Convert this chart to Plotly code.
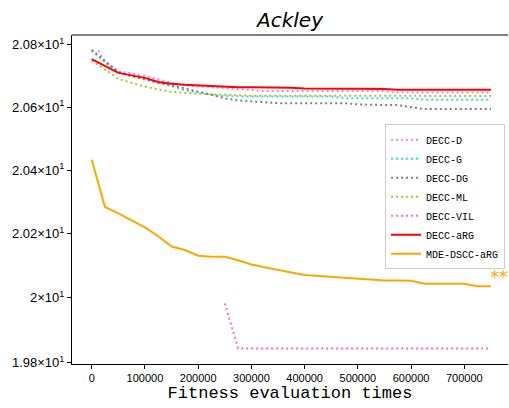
import math
import plotly.graph_objects as go

# ---------------- data ----------------
x_common = [0, 25000, 50000, 75000, 100000, 125000, 150000, 175000, 200000, 225000,
            250000, 275000, 300000, 325000, 350000, 375000, 400000, 425000, 450000, 475000,
            500000, 525000, 550000, 575000, 600000, 625000, 650000, 675000, 700000, 725000,
            750000]

x_decc_d = [12500, 25000, 50000, 75000, 100000, 125000, 150000, 175000, 200000, 225000,
            250000, 275000, 300000, 325000, 350000, 375000, 400000, 425000, 450000, 475000,
            500000, 525000, 550000, 575000, 600000, 625000, 650000, 675000, 700000, 725000,
            750000]
decc_d = [20.782, 20.742, 20.714, 20.709, 20.700, 20.689, 20.678, 20.670, 20.667, 20.664,
          20.660, 20.659, 20.655, 20.652, 20.652, 20.652, 20.652, 20.652, 20.652, 20.652,
          20.652, 20.652, 20.652, 20.647, 20.647, 20.647, 20.647, 20.647, 20.647, 20.647,
          20.647]

decc_g = [20.781, 20.745, 20.714, 20.700, 20.691, 20.680, 20.668, 20.654, 20.646, 20.640,
          20.636, 20.634, 20.634, 20.634, 20.634, 20.634, 20.634, 20.634, 20.634, 20.629,
          20.629, 20.629, 20.629, 20.629, 20.629, 20.624, 20.624, 20.624, 20.624, 20.624,
          20.624]

decc_dg = [20.784, 20.749, 20.713, 20.699, 20.688, 20.678, 20.670, 20.660, 20.651, 20.640,
           20.628, 20.622, 20.619, 20.616, 20.613, 20.613, 20.613, 20.613, 20.613, 20.613,
           20.609, 20.607, 20.607, 20.607, 20.600, 20.594, 20.594, 20.594, 20.594, 20.594,
           20.594]

decc_ml = [20.750, 20.720, 20.691, 20.678, 20.666, 20.657, 20.649, 20.646, 20.643, 20.641,
           20.640, 20.638, 20.637, 20.637, 20.637, 20.637, 20.637, 20.637, 20.637, 20.636,
           20.636, 20.636, 20.636, 20.636, 20.636, 20.636, 20.636, 20.636, 20.636, 20.636,
           20.636]

x_decc_vil = [250000, 275000, 300000, 325000, 350000, 375000, 400000, 425000, 450000, 475000,
              500000, 525000, 550000, 575000, 600000, 625000, 650000, 675000, 700000, 725000,
              750000]
decc_vil = [19.983, 19.844, 19.844, 19.844, 19.844, 19.844, 19.844, 19.844, 19.844, 19.844,
            19.844, 19.844, 19.844, 19.844, 19.844, 19.844, 19.844, 19.844, 19.844, 19.844,
            19.844]

decc_arg = [20.754, 20.733, 20.710, 20.702, 20.694, 20.681, 20.675, 20.672, 20.670, 20.667,
            20.665, 20.664, 20.664, 20.664, 20.662, 20.662, 20.660, 20.659, 20.659, 20.659,
            20.659, 20.659, 20.658, 20.656, 20.656, 20.656, 20.656, 20.656, 20.656, 20.656,
            20.656]

mde_dscc_arg = [20.433, 20.284, 20.264, 20.242, 20.220, 20.192, 20.160, 20.149, 20.131, 20.128,
                20.128, 20.117, 20.104, 20.095, 20.088, 20.079, 20.071, 20.068, 20.064, 20.061,
                20.058, 20.055, 20.054, 20.054, 20.053, 20.044, 20.044, 20.044, 20.044, 20.036,
                20.036]

star_x = [765000]
star_y = [20.058]
star_text = ["**"]

x_tickvals = [0, 100000, 200000, 300000, 400000, 500000, 600000, 700000]
y_tickvals = [19.8, 20.0, 20.2, 20.4, 20.6, 20.8]
y_ticktext = ["1.98×10<sup>1</sup>", "2×10<sup>1</sup>", "2.02×10<sup>1</sup>",
              "2.04×10<sup>1</sup>", "2.06×10<sup>1</sup>", "2.08×10<sup>1</sup>"]

# ---------------- figure ----------------
MONO = "Liberation Mono"
SANS = "Liberation Sans"
dot = "2px,3px"

fig = go.Figure()
fig.add_trace(go.Scatter(x=x_decc_d, y=decc_d, mode="lines", name="DECC-D",
                         line=dict(color="#EE82EE", width=2, dash=dot)))
fig.add_trace(go.Scatter(x=x_common, y=decc_g, mode="lines", name="DECC-G",
                         line=dict(color="#22E5E5", width=2, dash=dot)))
fig.add_trace(go.Scatter(x=x_common, y=decc_dg, mode="lines", name="DECC-DG",
                         line=dict(color="#808080", width=2, dash=dot)))
fig.add_trace(go.Scatter(x=x_common, y=decc_ml, mode="lines", name="DECC-ML",
                         line=dict(color="#BCBD22", width=2, dash=dot)))
fig.add_trace(go.Scatter(x=x_decc_vil, y=decc_vil, mode="lines", name="DECC-VIL",
                         line=dict(color="#FF69B4", width=2, dash=dot)))
fig.add_trace(go.Scatter(x=x_common, y=decc_arg, mode="lines", name="DECC-aRG",
                         line=dict(color="#FF0000", width=2)))
fig.add_trace(go.Scatter(x=x_common, y=mde_dscc_arg, mode="lines", name="MDE-DSCC-aRG",
                         line=dict(color="#FFA500", width=2)))
fig.add_trace(go.Scatter(x=star_x, y=star_y, mode="text", text=star_text, showlegend=False,
                         textfont=dict(color="#FFA500", size=17, family="DejaVu Sans"),
                         cliponaxis=False, hoverinfo="skip"))

fig.update_layout(
    width=509, height=408,
    margin=dict(l=72, r=1, t=35, b=44, autoexpand=False),
    paper_bgcolor="white", plot_bgcolor="white",
    title=dict(text="<i>Ackley</i>", x=0.5, xref="paper", xanchor="center",
               y=1 - 20 / 408, yref="container", yanchor="middle",
               font=dict(family="DejaVu Sans", size=20, color="black")),
    legend=dict(x=0.718, y=0.729, xanchor="left", yanchor="top",
                bgcolor="white", bordercolor="#cccccc", borderwidth=1,
                font=dict(family=MONO, size=10, color="black"),
                tracegroupgap=0, itemwidth=30),
    showlegend=True,
)

fig.update_xaxes(
    range=[-37000, 782000], tickvals=x_tickvals, tickformat="d", automargin=False,
    showgrid=False, zeroline=False,
    showline=True, linecolor="black", linewidth=1,
    ticks="outside", ticklen=4, tickcolor="black",
    tickfont=dict(family=SANS, size=11, color="black"),
    title=dict(text="Fitness evaluation times", standoff=2,
               font=dict(family=MONO, size=17, color="black")),
)
fig.update_yaxes(
    type="log", range=[math.log10(19.796), math.log10(20.832)], automargin=False,
    tickvals=y_tickvals, ticktext=y_ticktext,
    showgrid=False, zeroline=False,
    showline=True, linecolor="black", linewidth=1,
    ticks="outside", ticklen=4, tickcolor="black",
    tickfont=dict(family=SANS, size=13, color="black"),
)

fig.add_shape(type="line", xref="paper", yref="paper", x0=0, x1=1, y0=1, y1=1,
              line=dict(color="#808080", width=2))

fig.write_html("out.html", config={"displayModeBar": False},
               post_script="document.body.style.margin='0';document.body.style.overflow='hidden';")
